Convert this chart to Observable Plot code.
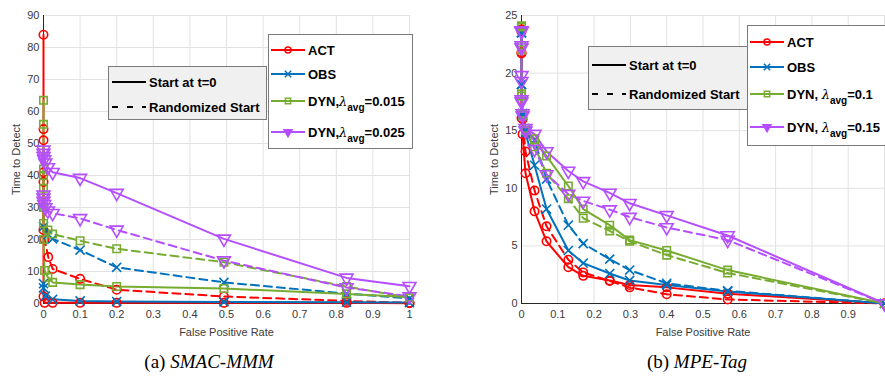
<!DOCTYPE html>
<html><head><meta charset="utf-8">
<script src="https://cdn.jsdelivr.net/npm/d3@7"></script>
<script src="https://cdn.jsdelivr.net/npm/@observablehq/plot@0.6"></script>
<style>
body{margin:0;background:#fff;}
#wrap{position:relative;width:885px;height:381px;overflow:hidden;font-family:"Liberation Sans",Arial,sans-serif;}
.plot{position:absolute;top:0;}
.legend{position:absolute;border:1px solid #7a7a7a;box-sizing:border-box;font-weight:bold;font-size:13px;color:#000;}
.row{position:absolute;left:2px;display:flex;align-items:center;white-space:nowrap;height:22px;margin-top:-11px;}
.row svg{margin-right:3px;flex:none;}
.lam{font-family:"DejaVu Serif",serif;font-style:italic;font-weight:normal;font-size:13px;}
.sub{font-size:10px;position:relative;top:5px;}
.caption{position:absolute;top:347px;font-family:"Liberation Serif","Times New Roman",serif;font-size:19px;text-align:center;width:300px;line-height:30px;color:#000;}
</style></head>
<body><div id="wrap"></div>
<script>
// ---------- shared ----------
const seriesNames = ["ACT", "OBS", "DYN1", "DYN2"];
const seriesColors = ["#ff0000", "#0072bd", "#77ac30", "#b44eff"];
const seriesSymbols = ["circle", "times", "square", "triangle"];
const startNames = ["Start at t=0", "Randomized Start"];
const xTicks = [0, 0.1, 0.2, 0.3, 0.4, 0.5, 0.6, 0.7, 0.8, 0.9, 1];
const xLabel = "False Positive Rate";
const yLabel = "Time to Detect";

// ---------- (a) SMAC-MMM ----------
const smacYTicks = [0, 10, 20, 30, 40, 50, 60, 70, 80, 90];
const smacXTickLabels = [0, 0.1, 0.2, 0.3, 0.4, 0.5, 0.6, 0.7, 0.8, 0.9, 1];
const smacLegendLabels = ["ACT", "OBS", "DYN,λavg=0.015", "DYN,λavg=0.025"];
const smacActT0X   = [0, 0, 0, 0, 0.003, 0.025, 0.1, 0.2, 0.493, 0.828, 1];
const smacActT0Y   = [84, 54.5, 51, 2.2, 0.2, 0.2, 0.2, 0.2, 0.2, 0.2, 0.1];
const smacActRandX = [0, 0, 0, 0.003, 0.013, 0.025, 0.1, 0.2, 0.493, 0.828, 1];
const smacActRandY = [41, 38, 23, 20, 14.5, 10.8, 7.7, 4.3, 2.2, 0.8, 0.2];
const smacObsT0X   = [0, 0, 0.005, 0.025, 0.1, 0.2, 0.493, 0.828, 1];
const smacObsT0Y   = [6.2, 4.9, 2.3, 1.3, 0.8, 0.6, 0.5, 0.4, 0.3];
const smacObsRandX = [0, 0.012, 0.025, 0.1, 0.2, 0.493, 0.828, 1];
const smacObsRandY = [24, 21.5, 20.2, 16.7, 11.3, 6.6, 3.1, 1.6];
const smacDyn1T0X   = [0, 0, 0, 0, 0, 0.003, 0.012, 0.025, 0.1, 0.2, 0.493, 0.828, 1];
const smacDyn1T0Y   = [63.5, 56, 42, 30, 20, 10.3, 8.2, 6.6, 5.9, 5.3, 4.7, 3.0, 2.0];
const smacDyn1RandX = [0, 0, 0, 0, 0.012, 0.025, 0.1, 0.2, 0.493, 0.828, 1];
const smacDyn1RandY = [40, 36, 30, 25, 23, 21.7, 19.6, 17.1, 12.9, 5.3, 1.8];
const smacDyn2T0X   = [0, 0, 0, 0.002, 0.005, 0.012, 0.025, 0.1, 0.2, 0.493, 0.828, 1];
const smacDyn2T0Y   = [48, 47, 46, 45, 44, 42.5, 41, 39.2, 34.5, 20.2, 8, 5.4];
const smacDyn2RandX = [0, 0, 0, 0.002, 0.005, 0.012, 0.025, 0.1, 0.2, 0.493, 0.828, 1];
const smacDyn2RandY = [34, 33, 32, 31, 30, 29, 28.2, 26.6, 23, 13.4, 5, 2.2];

// ---------- (b) MPE-Tag ----------
const tagYTicks = [0, 5, 10, 15, 20, 25];
const tagXTickLabels = [0, 0.1, 0.2, 0.3, 0.4, 0.5, 0.6, 0.7, 0.8, 0.9];
const tagLegendLabels = ["ACT", "OBS", "DYN, λavg=0.1", "DYN, λavg=0.15"];
const tagActT0X   = [0, 0, 0, 0.003, 0.011, 0.036, 0.069, 0.129, 0.17, 0.243, 0.298, 0.40, 0.568, 1];
const tagActT0Y   = [23.8, 21.8, 16.1, 14.7, 11.3, 8.0, 5.4, 3.15, 2.4, 2.0, 1.6, 1.4, 0.85, 0];
const tagActRandX = [0, 0, 0.003, 0.011, 0.036, 0.069, 0.129, 0.17, 0.243, 0.298, 0.40, 0.568, 1];
const tagActRandY = [23.6, 21.7, 16.0, 13.2, 9.8, 6.7, 3.8, 2.7, 1.95, 1.4, 0.8, 0.35, 0];
const tagObsT0X   = [0, 0, 0.003, 0.011, 0.036, 0.069, 0.129, 0.17, 0.243, 0.298, 0.40, 0.568, 1];
const tagObsT0Y   = [23.5, 19, 16.5, 14.8, 12.0, 8.2, 4.6, 3.5, 2.6, 2.0, 1.6, 1.05, 0];
const tagObsRandX = [0, 0, 0.003, 0.011, 0.036, 0.069, 0.129, 0.17, 0.243, 0.298, 0.40, 0.568, 1];
const tagObsRandY = [23.5, 19, 16.3, 15, 14.2, 10.8, 6.8, 5.2, 3.85, 2.9, 1.75, 1.1, 0];
const tagDyn1T0X   = [0, 0, 0, 0.003, 0.011, 0.036, 0.069, 0.129, 0.17, 0.243, 0.298, 0.40, 0.568, 1];
const tagDyn1T0Y   = [24.1, 22.4, 18.2, 16.5, 15.2, 14.3, 12.8, 10.2, 8.2, 6.8, 5.5, 4.6, 2.9, 0];
const tagDyn1RandX = [0, 0, 0, 0.003, 0.011, 0.036, 0.069, 0.129, 0.17, 0.243, 0.298, 0.40, 0.568, 1];
const tagDyn1RandY = [24, 22, 18, 16.3, 15, 13.6, 11.3, 9.1, 7.4, 6.3, 5.4, 4.2, 2.65, 0];
const tagDyn2T0X   = [0, 0, 0, 0, 0.003, 0.011, 0.036, 0.069, 0.129, 0.17, 0.243, 0.298, 0.40, 0.568, 1];
const tagDyn2T0Y   = [23.7, 22.4, 19.8, 17.7, 16.5, 15.2, 14.7, 13.2, 11.5, 10.6, 9.6, 8.7, 7.65, 5.9, 0];
const tagDyn2RandX = [0, 0, 0, 0, 0.003, 0.011, 0.036, 0.069, 0.129, 0.17, 0.243, 0.298, 0.40, 0.568, 1];
const tagDyn2RandY = [23.6, 22.2, 19.3, 17.5, 16.3, 15.0, 13.4, 11.2, 9.5, 8.9, 8.15, 7.5, 6.6, 5.5, 0];

function rowsOf(list) {
  const out = [];
  for (const s of list) s.x.forEach((x, i) => out.push({series: s.series, start: s.start, key: s.series + "|" + s.start, x, y: s.y[i]}));
  return out;
}
const smacRows = rowsOf([
  {series: "ACT", start: startNames[0], x: smacActT0X, y: smacActT0Y},
  {series: "ACT", start: startNames[1], x: smacActRandX, y: smacActRandY},
  {series: "OBS", start: startNames[0], x: smacObsT0X, y: smacObsT0Y},
  {series: "OBS", start: startNames[1], x: smacObsRandX, y: smacObsRandY},
  {series: "DYN1", start: startNames[0], x: smacDyn1T0X, y: smacDyn1T0Y},
  {series: "DYN1", start: startNames[1], x: smacDyn1RandX, y: smacDyn1RandY},
  {series: "DYN2", start: startNames[0], x: smacDyn2T0X, y: smacDyn2T0Y},
  {series: "DYN2", start: startNames[1], x: smacDyn2RandX, y: smacDyn2RandY}
]);
const tagRows = rowsOf([
  {series: "ACT", start: startNames[0], x: tagActT0X, y: tagActT0Y},
  {series: "ACT", start: startNames[1], x: tagActRandX, y: tagActRandY},
  {series: "OBS", start: startNames[0], x: tagObsT0X, y: tagObsT0Y},
  {series: "OBS", start: startNames[1], x: tagObsRandX, y: tagObsRandY},
  {series: "DYN1", start: startNames[0], x: tagDyn1T0X, y: tagDyn1T0Y},
  {series: "DYN1", start: startNames[1], x: tagDyn1RandX, y: tagDyn1RandY},
  {series: "DYN2", start: startNames[0], x: tagDyn2T0X, y: tagDyn2T0Y},
  {series: "DYN2", start: startNames[1], x: tagDyn2RandX, y: tagDyn2RandY}
]);

function makeChart(rows, yTicks, xTickLabels, o) {
  const solid = rows.filter(d => d.start === startNames[0]);
  const dashed = rows.filter(d => d.start === startNames[1]);
  const nonTri = rows.filter(d => d.series !== "DYN2");
  const tri = rows.filter(d => d.series === "DYN2");
  return Plot.plot({
    width: o.width, height: 345,
    marginLeft: o.marginLeft, marginRight: o.marginRight, marginTop: 15, marginBottom: 42,
    style: {fontFamily: "Liberation Sans, Arial, sans-serif", fontSize: "11px", background: "transparent", overflow: "visible"},
    x: {domain: [0, 1]},
    y: {domain: [0, yTicks[yTicks.length - 1]]},
    color: {domain: seriesNames, range: seriesColors},
    symbol: {domain: seriesNames, range: seriesSymbols},
    marks: [
      Plot.gridX(xTicks, {stroke: "#e2e2e2", strokeOpacity: 1}),
      Plot.gridY(yTicks, {stroke: "#e2e2e2", strokeOpacity: 1}),
      Plot.axisX(xTickLabels, {tickSize: 0, tickPadding: 7, tickFormat: d => String(d), fill: "#3a3a3a", fontSize: 11,
        label: xLabel, labelAnchor: "center", labelArrow: "none", labelOffset: 32}),
      Plot.axisY(yTicks, {tickSize: 0, tickPadding: 4, tickFormat: d => String(d), fill: "#3a3a3a", fontSize: 11,
        label: yLabel, labelAnchor: "center", labelArrow: "none", labelOffset: 31}),
      Plot.ruleX([0], {stroke: "#262626", strokeWidth: 1}),
      Plot.ruleY([0], {stroke: "#262626", strokeWidth: 1}),
      Plot.line(dashed, {x: "x", y: "y", z: "key", stroke: "series", strokeWidth: 2, strokeDasharray: "8,5"}),
      Plot.line(solid, {x: "x", y: "y", z: "key", stroke: "series", strokeWidth: 2}),
      Plot.dot(nonTri, {x: "x", y: "y", stroke: "series", symbol: "series", r: 4.2, strokeWidth: 1.6}),
      Plot.dot(tri, {x: "x", y: "y", stroke: "series", symbol: "series", r: 4.8, strokeWidth: 1.6, rotate: 180})
    ]
  });
}

const wrap = document.getElementById("wrap");
const left = makeChart(smacRows, smacYTicks, smacXTickLabels, {width: 430, marginLeft: 43, marginRight: 21});
left.classList.add("plot"); left.style.left = "0px";
wrap.appendChild(left);
const right = makeChart(tagRows, tagYTicks, tagXTickLabels, {width: 425, marginLeft: 61, marginRight: 1});
right.classList.add("plot"); right.style.left = "460px";
wrap.appendChild(right);

// ---------- legends ----------
function sampleSvg(color, symbol, dashed) {
  const ns = "http://www.w3.org/2000/svg";
  const s = document.createElementNS(ns, "svg");
  s.setAttribute("width", 34); s.setAttribute("height", 14);
  const l = document.createElementNS(ns, "line");
  l.setAttribute("x1", 0); l.setAttribute("x2", 34); l.setAttribute("y1", 7); l.setAttribute("y2", 7);
  l.setAttribute("stroke", color); l.setAttribute("stroke-width", 2);
  if (dashed) l.setAttribute("stroke-dasharray", "6,9");
  s.appendChild(l);
  if (symbol) {
    const p = document.createElementNS(ns, "path");
    const t = {circle: d3.symbolCircle, times: d3.symbolTimes, square: d3.symbolSquare, triangle: d3.symbolTriangle}[symbol];
    p.setAttribute("d", d3.symbol(t, 28)());
    p.setAttribute("transform", "translate(17,7)" + (symbol === "triangle" ? " rotate(180)" : ""));
    p.setAttribute("fill", symbol === "triangle" ? color : "none");
    p.setAttribute("stroke", color); p.setAttribute("stroke-width", 1.5);
    s.appendChild(p);
  }
  return s;
}
function labelHtml(text) {
  const m = text.match(/^(.*)λavg(.*)$/);
  if (!m) return text;
  return m[1] + '<span class="lam">λ</span><span class="sub">avg</span>' + m[2];
}
function styleLegend(box, rowsTop) {
  const d = document.createElement("div");
  d.className = "legend";
  Object.assign(d.style, {left: box[0] + "px", top: box[1] + "px", width: box[2] + "px", height: box[3] + "px", background: "#f0f0f0"});
  startNames.forEach((name, i) => {
    const r = document.createElement("div"); r.className = "row"; r.style.top = rowsTop[i] + "px"; r.style.left = "3px";
    r.appendChild(sampleSvg("#000", null, i === 1));
    const sp = document.createElement("span"); sp.textContent = name; r.appendChild(sp);
    d.appendChild(r);
  });
  wrap.appendChild(d);
}
function seriesLegend(box, rowsTop, labels) {
  const d = document.createElement("div");
  d.className = "legend";
  Object.assign(d.style, {left: box[0] + "px", top: box[1] + "px", width: box[2] + "px", height: box[3] + "px", background: "#fff"});
  seriesNames.forEach((name, i) => {
    const r = document.createElement("div"); r.className = "row"; r.style.top = rowsTop[i] + "px";
    r.appendChild(sampleSvg(seriesColors[i], seriesSymbols[i], false));
    const sp = document.createElement("span"); sp.innerHTML = labelHtml(labels[i]); r.appendChild(sp);
    d.appendChild(r);
  });
  wrap.appendChild(d);
}
styleLegend([108, 66, 159, 54], [15, 40]);
seriesLegend([268, 34, 145, 115], [15, 39, 66, 97], smacLegendLabels);
styleLegend([588, 46, 160, 64], [18, 47]);
seriesLegend([747, 25, 160, 121], [16, 41, 68, 101], tagLegendLabels);

// ---------- captions ----------
function caption(x, tag, name) {
  const c = document.createElement("div");
  c.className = "caption";
  c.style.left = (x - 150) + "px";
  c.innerHTML = tag + ' <i>' + name + '</i>';
  wrap.appendChild(c);
}
caption(209, "(a)", "SMAC-MMM");
caption(697, "(b)", "MPE-Tag");
</script>
</body></html>
